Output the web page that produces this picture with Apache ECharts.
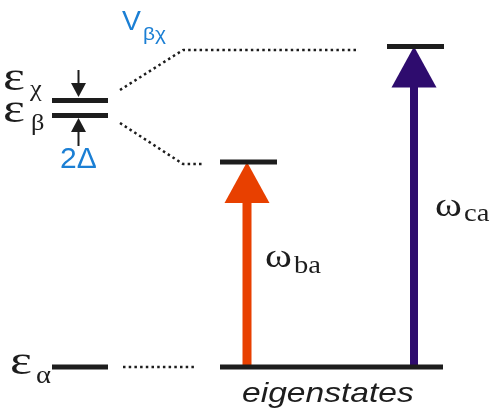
<!DOCTYPE html>
<html><head><meta charset="utf-8">
<script src="https://cdn.jsdelivr.net/npm/echarts@6/dist/echarts.min.js"></script>
<style>html,body{margin:0;padding:0;background:#fff}#c{width:491px;height:410px}</style>
</head><body><div id="c"></div>
<script>
// ---- data ----
const levelNames = ['χ', 'β', 'α', 'c', 'b', 'a'];
const levelEnergy = [26.65, 25.15, 0, 32.05, 20.5, 0];
const transitionNames = ['ca', 'ba'];
const transitionFrom = [0, 0];
const transitionTo = [32.05, 20.5];
const couplingText = ['V', 'βχ'];
const splittingText = '2Δ';
const footerText = 'eigenstates';

// ---- layout (not data) ----
const levelSpan = [[52, 108], [52, 108], [52, 108], [387, 444], [220, 277], [220, 443]];
const transitionX = [414, 247];
const transitionColor = ['#2e0c6e', '#e84000'];
const transitionShaft = [8, 9];
const INK = '#1d1d1d';
const BLUE = '#1b7fd4';

const E = {}; levelNames.forEach((n, i) => E[n] = levelEnergy[i]);

const levelData = levelNames.map((n, i) => [levelSpan[i][0], levelSpan[i][1], levelEnergy[i]]);
const arrowData = transitionNames.map((n, i) => [transitionX[i], transitionFrom[i], transitionTo[i]]);
const arrowStyle = transitionNames.map((n, i) => ({ color: transitionColor[i], L: 41, W: 45, S: transitionShaft[i] }));
const smallArrowData = [[78.5, E['χ'] + 3.05, E['χ'] + 0.35], [78.5, E['β'] - 3.05, E['β'] - 0.25]];
const smallArrowStyle = [{ color: INK, L: 14, W: 15, S: 2 }, { color: INK, L: 14, W: 15, S: 2 }];

const connectors = [
  [[120, E['χ'] + 1.05], [183, E['c'] - 0.35], [357, E['c'] - 0.35]],
  [[120, E['β'] - 0.75], [183, E['b'] - 0.2], [202, E['b'] - 0.2]],
  [[123, E['α']], [197, E['α']]]
];

function arrowRenderer(styles) {
  return function (params, api) {
    const st = styles[params.dataIndex];
    const p0 = api.coord([api.value(0), api.value(1)]);
    const p1 = api.coord([api.value(0), api.value(2)]);
    const dir = p1[1] < p0[1] ? -1 : 1;
    const baseY = p1[1] - dir * st.L;
    const sEnd = baseY + dir * 1;
    return {
      type: 'group', children: [
        { type: 'rect', shape: { x: p0[0] - st.S / 2, y: Math.min(p0[1], sEnd), width: st.S, height: Math.abs(sEnd - p0[1]) }, style: { fill: st.color } },
        { type: 'polygon', shape: { points: [[p1[0], p1[1]], [p1[0] - st.W / 2, baseY], [p1[0] + st.W / 2, baseY]] }, style: { fill: st.color } }
      ]
    };
  };
}

const SERIF = 'Liberation Serif';
const SANS = 'Liberation Sans';
function txt(text, left, baseline, size, family, color, sx, italic) {
  const mid = baseline - size * (family === SERIF ? 0.3375 : 0.3465);
  const style = { legacy: false, text: text, fontFamily: family, fontSize: size, fill: color, align: 'left', verticalAlign: 'middle' };
  if (italic) style.fontStyle = 'italic';
  return { type: 'text', x: left, y: mid, scaleX: sx || 1, z: 100, style: style };
}

const graphics = [
  txt('ε', 3, 93, 40, SERIF, INK, 1.3),
  txt(levelNames[0], 30, 98, 24, SERIF, INK, 1.1),
  txt('ε', 3, 125, 40, SERIF, INK, 1.3),
  txt(levelNames[1], 31, 132, 24, SERIF, INK, 1.1),
  txt('ε', 10, 377, 40, SERIF, INK, 1.3),
  txt(levelNames[2], 36, 385, 26, SERIF, INK, 1.1),
  txt(couplingText[0], 122, 32, 27, SANS, BLUE, 1.05),
  txt(couplingText[1], 143, 41, 19, SANS, BLUE, 1.1),
  txt(splittingText, 60, 170, 30, SANS, BLUE, 1),
  txt('ω', 265, 270, 34, SERIF, INK, 1.2),
  txt(transitionNames[1], 294, 275, 26, SERIF, INK, 1.1),
  txt('ω', 435, 219, 34, SERIF, INK, 1.2),
  txt(transitionNames[0], 464, 223, 26, SERIF, INK, 1.1),
  txt(footerText, 242, 404, 28, SANS, INK, 1.2, true)
];

const chart = echarts.init(document.getElementById('c'), null, { renderer: 'canvas' });
chart.setOption({
  backgroundColor: '#ffffff',
  animation: false,
  grid: { left: 0, right: 0, top: 0, bottom: 0 },
  xAxis: { type: 'value', min: 0, max: 491, show: false },
  yAxis: { type: 'value', min: -4.3, max: 36.7, show: false },
  graphic: graphics,
  series: [
    ...connectors.map(pts => ({
      type: 'line', data: pts, symbol: 'none', silent: true, z: 1,
      lineStyle: { color: INK, width: 2.5, type: [2.5, 3.2] }
    })),
    { type: 'custom', data: arrowData, renderItem: arrowRenderer(arrowStyle), z: 2, silent: true },
    { type: 'custom', data: smallArrowData, renderItem: arrowRenderer(smallArrowStyle), z: 2, silent: true },
    {
      type: 'custom', data: levelData, z: 3, silent: true,
      renderItem: function (params, api) {
        const a = api.coord([api.value(0), api.value(2)]);
        const b = api.coord([api.value(1), api.value(2)]);
        return { type: 'rect', shape: { x: a[0], y: a[1] - 2.5, width: b[0] - a[0], height: 5 }, style: { fill: INK } };
      }
    }
  ]
});
</script>
</body></html>
